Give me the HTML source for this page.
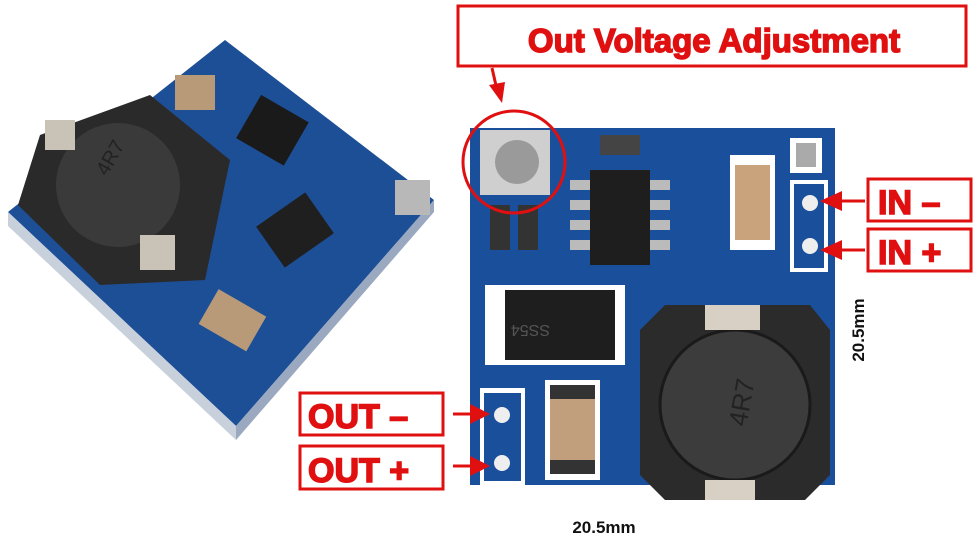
<!DOCTYPE html>
<html><head><style>body{margin:0;background:#fff}svg{display:block}</style></head><body>
<svg width="980" height="544" viewBox="0 0 980 544" xmlns="http://www.w3.org/2000/svg" font-family="Liberation Sans, sans-serif">
<!-- left board -->
<polygon points="8,212 225,40 434,200 236,426" fill="#1d4f97"/>
<polygon points="8,212 8,226 236,440 236,426" fill="#c8d0dc"/>
<polygon points="236,426 236,440 434,212 434,200" fill="#9aa8c0"/>
<polygon points="40,135 150,95 230,160 205,280 100,285 18,205" fill="#2a2a2a"/>
<circle cx="118" cy="185" r="62" fill="#3a3a3a"/>
<text x="100" y="175" font-size="20" fill="#222" transform="rotate(-60 105 170)">4R7</text>
<rect x="45" y="120" width="30" height="30" fill="#c9c2b6"/>
<rect x="140" y="235" width="35" height="35" fill="#c9c2b6"/>
<rect x="175" y="75" width="40" height="35" fill="#b99a78"/>
<rect x="245" y="105" width="55" height="50" fill="#1a1a1a" transform="rotate(30 272 130)"/>
<rect x="265" y="205" width="60" height="50" fill="#1f1f1f" transform="rotate(-35 295 230)"/>
<rect x="205" y="300" width="55" height="40" fill="#b99a78" transform="rotate(30 232 320)"/>
<rect x="395" y="180" width="35" height="35" fill="#b8b8b8"/>
<!-- right board -->
<rect x="470" y="128" width="365" height="357" fill="#1a4f9c"/>
<rect x="480" y="130" width="70" height="65" fill="#cfcfcf"/>
<circle cx="517" cy="162" r="22" fill="#9a9a9a"/>
<rect x="790" y="138" width="32" height="35" fill="#fff"/>
<rect x="796" y="143" width="20" height="24" fill="#aaa"/>
<rect x="790" y="180" width="38" height="92" fill="#fff"/>
<rect x="794" y="184" width="30" height="84" fill="#1a4f9c"/>
<circle cx="810" cy="203" r="8" fill="#eee"/><circle cx="810" cy="246" r="8" fill="#eee"/>
<rect x="600" y="135" width="40" height="20" fill="#444"/>
<rect x="590" y="170" width="60" height="95" fill="#1e1e1e"/>
<rect x="570" y="180" width="20" height="10" fill="#bbb"/><rect x="570" y="200" width="20" height="10" fill="#bbb"/><rect x="570" y="220" width="20" height="10" fill="#bbb"/><rect x="570" y="240" width="20" height="10" fill="#bbb"/>
<rect x="650" y="180" width="20" height="10" fill="#bbb"/><rect x="650" y="200" width="20" height="10" fill="#bbb"/><rect x="650" y="220" width="20" height="10" fill="#bbb"/><rect x="650" y="240" width="20" height="10" fill="#bbb"/>
<rect x="730" y="155" width="45" height="95" fill="#fff"/>
<rect x="735" y="165" width="35" height="75" fill="#c8a37c"/>
<rect x="490" y="205" width="20" height="45" fill="#333"/><rect x="518" y="205" width="20" height="45" fill="#333"/>
<rect x="485" y="285" width="140" height="80" fill="#fff"/>
<rect x="505" y="290" width="110" height="70" fill="#1e1e1e"/>
<text x="570" y="335" font-size="16" fill="#555" transform="rotate(180 560 330)">SS54</text>
<rect x="545" y="380" width="55" height="100" fill="#fff"/>
<rect x="550" y="395" width="45" height="70" fill="#c29f7c"/>
<rect x="550" y="385" width="45" height="14" fill="#333"/><rect x="550" y="460" width="45" height="14" fill="#333"/>
<rect x="480" y="388" width="45" height="97" fill="#fff"/>
<rect x="484" y="393" width="37" height="88" fill="#1a4f9c"/>
<circle cx="502" cy="415" r="8" fill="#eee"/><circle cx="502" cy="463" r="8" fill="#eee"/>
<polygon points="665,305 810,305 830,330 830,475 805,500 665,500 640,475 640,330" fill="#2b2b2b"/>
<circle cx="735" cy="405" r="75" fill="#3c3c3c" stroke="#1a1a1a" stroke-width="3"/>
<text x="715" y="420" font-size="26" fill="#222" transform="rotate(-80 735 405)">4R7</text>
<rect x="705" y="305" width="55" height="25" fill="#d8d0c4"/>
<rect x="705" y="480" width="50" height="20" fill="#d8d0c4"/>
<!-- labels -->
<g font-weight="bold" fill="#e01010" stroke="#e01010" stroke-width="1.5">
<rect x="458" y="6" width="508" height="60" fill="#fff" stroke-width="3"/>
<text x="714" y="52" text-anchor="middle" font-size="33">Out Voltage Adjustment</text>
<rect x="868" y="179" width="103" height="42" fill="#fff" stroke-width="3"/>
<text x="878" y="214" font-size="34">IN  –</text>
<rect x="868" y="229" width="103" height="42" fill="#fff" stroke-width="3"/>
<text x="878" y="264" font-size="34">IN  +</text>
<rect x="300" y="393" width="143" height="42" fill="#fff" stroke-width="3"/>
<text x="308" y="428" font-size="34">OUT  –</text>
<rect x="300" y="446" width="143" height="43" fill="#fff" stroke-width="3"/>
<text x="308" y="482" font-size="34">OUT  +</text>
</g>
<line x1="492" y1="68" x2="497" y2="90" stroke="#e01010" stroke-width="3"/>
<polygon points="489,85 505,82 502,103" fill="#e01010"/>
<circle cx="514" cy="162" r="51" fill="none" stroke="#e01010" stroke-width="3"/>
<line x1="865" y1="201" x2="835" y2="201" stroke="#e01010" stroke-width="3"/><polygon points="820,201 842,191 842,211" fill="#e01010"/>
<line x1="865" y1="250" x2="835" y2="250" stroke="#e01010" stroke-width="3"/><polygon points="820,250 842,240 842,260" fill="#e01010"/>
<line x1="453" y1="414" x2="475" y2="414" stroke="#e01010" stroke-width="3"/><polygon points="490,414 470,404 470,424" fill="#e01010"/>
<line x1="453" y1="466" x2="475" y2="466" stroke="#e01010" stroke-width="3"/><polygon points="490,466 470,456 470,476" fill="#e01010"/>
<text x="604" y="533" text-anchor="middle" font-size="17" font-weight="bold" fill="#111">20.5mm</text>
<text x="864" y="330" text-anchor="middle" font-size="17" font-weight="bold" fill="#111" transform="rotate(-90 864 330)">20.5mm</text>
</svg>
</body></html>
